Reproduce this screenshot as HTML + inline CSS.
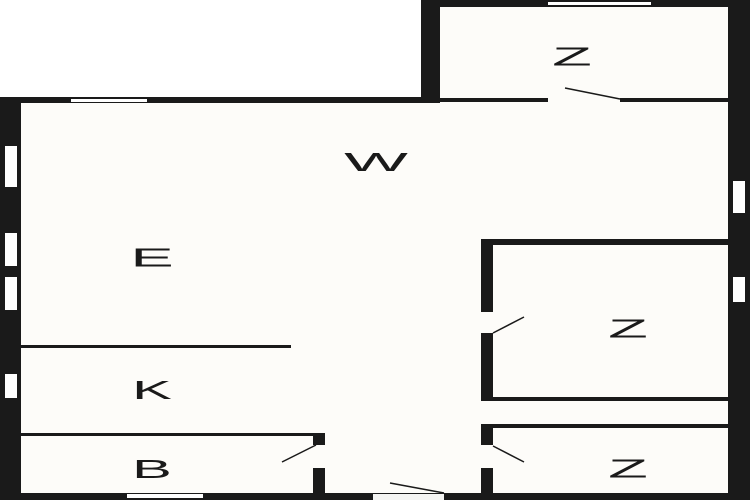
<!DOCTYPE html>
<html><head><meta charset="utf-8"><style>
html,body{margin:0;padding:0;background:#fff;width:750px;height:500px;overflow:hidden}
text{font-family:"Liberation Sans",sans-serif;font-size:26px;fill:#1a1a1a;text-anchor:middle;dominant-baseline:central}
</style></head><body>
<svg width="750" height="500" viewBox="0 0 750 500" xmlns="http://www.w3.org/2000/svg">
<rect width="750" height="500" fill="#fff"/>
<rect x="0" y="97" width="750" height="403" fill="#fdfcf9"/>
<rect x="421" y="0" width="329" height="100" fill="#fdfcf9"/>
<g fill="#1a1a1a">
<rect x="421" y="0" width="329" height="7"/>
<rect x="421" y="0" width="19" height="103"/>
<rect x="728" y="0" width="22" height="500"/>
<rect x="0" y="97" width="440" height="6"/>
<rect x="0" y="97" width="21" height="403"/>
<rect x="0" y="493" width="750" height="7"/>
<rect x="440" y="98" width="108" height="4"/>
<rect x="620" y="98" width="108" height="4"/>
<rect x="21" y="345" width="270" height="3"/>
<rect x="21" y="433" width="304" height="3"/>
<rect x="313" y="433" width="12" height="12"/>
<rect x="313" y="468" width="12" height="27"/>
<rect x="481" y="239" width="12" height="73"/>
<rect x="481" y="333" width="12" height="68"/>
<rect x="481" y="239" width="247" height="6"/>
<rect x="481" y="397" width="247" height="4"/>
<rect x="481" y="424" width="247" height="4"/>
<rect x="481" y="424" width="12" height="21"/>
<rect x="481" y="468" width="12" height="27"/>
</g>
<g fill="#fff">
<rect x="548" y="2" width="103" height="3"/>
<rect x="71" y="99" width="76" height="3"/>
<rect x="5" y="146" width="12" height="41"/>
<rect x="5" y="233" width="12" height="33"/>
<rect x="5" y="277" width="12" height="33"/>
<rect x="5" y="374" width="12" height="24"/>
<rect x="733" y="181" width="12" height="32"/>
<rect x="733" y="277" width="12" height="25"/>
<rect x="127" y="494" width="76" height="4"/>
<rect x="373" y="494" width="71" height="6" fill="#f4f4f2"/>
</g>
<g stroke="#1a1a1a" stroke-width="1.5">
<line x1="565" y1="88" x2="620" y2="99"/>
<line x1="282" y1="462" x2="316" y2="445"/>
<line x1="390" y1="483" x2="444" y2="493"/>
<line x1="493" y1="333" x2="524" y2="317"/>
<line x1="493" y1="446" x2="524" y2="462"/>
</g>
<text transform="translate(572,57) scale(2.5,1)">Z</text>
<text transform="translate(376,162) scale(2.6,1)">W</text>
<text transform="translate(152,258) scale(2.5,1)">E</text>
<text transform="translate(152,390) scale(2.3,1)">K</text>
<text transform="translate(152,469) scale(2.3,1)">B</text>
<text transform="translate(628,329) scale(2.5,1)">Z</text>
<text transform="translate(628,469) scale(2.5,1)">Z</text>
</svg>
</body></html>
